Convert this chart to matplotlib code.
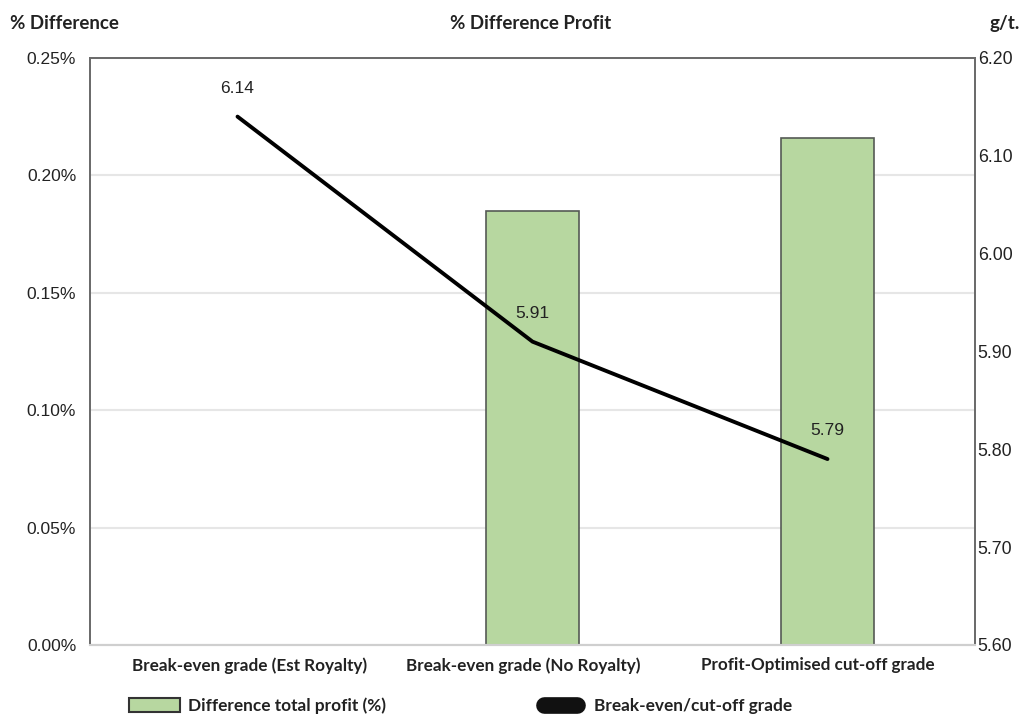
import matplotlib.pyplot as plt
import matplotlib.transforms as mtransforms
from matplotlib.patches import Patch
from matplotlib.lines import Line2D
from matplotlib.ticker import FuncFormatter

# data
categories = ['Break-even grade (Est Royalty)', 'Break-even grade (No Royalty)',
              'Profit-Optimised cut-off grade']
profit_diff = [0.0, 0.185, 0.216]      # % difference total profit
grade = [6.14, 5.91, 5.79]             # g/t
grade_labels = ['6.14', '5.91', '5.79']

bar_color = '#b7d7a0'
edge_color = '#555a55'
grid_color = '#e6e6e6'
tick_font = 'Liberation Sans'
label_font = 'Lato'

fig = plt.figure(figsize=(10.3, 7.15), dpi=100)
ax = fig.add_axes([0.0874, 0.098, 0.8592, 0.821])
ax2 = ax.twinx()

x = range(len(categories))
ax.bar(x, profit_diff, width=0.315, color=bar_color, edgecolor=edge_color,
       linewidth=1.2, zorder=2)
ax.set_xlim(-0.5, 2.5)
ax.set_ylim(0, 0.25)
ax.set_yticks([0, 0.05, 0.10, 0.15, 0.20, 0.25])
ax.yaxis.set_major_formatter(FuncFormatter(lambda v, p: f'{v:.2f}%'))
ax.grid(axis='y', color=grid_color, linewidth=1.5, zorder=0)
ax.set_axisbelow(True)
ax.set_xticks(list(x))
ax.set_xticklabels(categories, fontfamily=label_font, fontweight='bold',
                   fontsize=12.3, color='#222222')
ax.tick_params(axis='x', length=0, pad=9)
ax.tick_params(axis='y', length=0, pad=10, labelsize=12.5, labelcolor='#222222')
for lab in ax.get_yticklabels():
    lab.set_fontfamily(tick_font)

# the category labels in the source sit slightly off the bar centres
shifts = [12, -9, -10]
for lab, dx in zip(ax.get_xticklabels(), shifts):
    lab.set_transform(lab.get_transform() +
                      mtransforms.ScaledTranslation(dx / 100, 0, fig.dpi_scale_trans))

ax2.plot(list(x), grade, color='black', linewidth=2.8, zorder=3,
         solid_capstyle='round')
ax2.set_ylim(5.60, 6.20)
ax2.set_yticks([5.60, 5.70, 5.80, 5.90, 6.00, 6.10, 6.20])
ax2.yaxis.set_major_formatter(FuncFormatter(lambda v, p: f'{v:.2f}'))
ax2.tick_params(axis='y', length=0, pad=2, labelsize=12.8, labelcolor='#222222')
for lab in ax2.get_yticklabels():
    lab.set_fontfamily(tick_font)
for xi, g, t in zip(x, grade, grade_labels):
    ax2.annotate(t, (xi, g), xytext=(0, 15), textcoords='offset points',
                 ha='center', va='bottom', fontsize=12.5, fontfamily=tick_font,
                 color='#222222')

for a in (ax, ax2):
    for side in ('left', 'right', 'top'):
        a.spines[side].set_color('#6b6b6b')
        a.spines[side].set_linewidth(1.3)
    a.spines['bottom'].set_color('#cfcfcf')
    a.spines['bottom'].set_linewidth(1.5)

# header texts
fig.text(0.01, 0.967, '% Difference', fontfamily=label_font, fontweight='bold',
         fontsize=13.5, ha='left', va='center', color='#222222')
fig.text(0.515, 0.967, '% Difference Profit', fontfamily=label_font,
         fontweight='bold', fontsize=13.5, ha='center', va='center', color='#222222')
fig.text(0.99, 0.967, 'g/t.', fontfamily=label_font, fontweight='bold',
         fontsize=13.5, ha='right', va='center', color='#222222')

# legend, two entries placed under the chart
leg_font = {'family': label_font, 'weight': 'bold', 'size': 12.4}
leg1 = fig.legend(handles=[Patch(facecolor=bar_color, edgecolor='#333333',
                                 linewidth=1.5)],
                  labels=['Difference total profit (%)'], loc='center left',
                  bbox_to_anchor=(0.1252, 0.0126), frameon=False,
                  handlelength=2.95, handleheight=0.9, handletextpad=0.47,
                  borderaxespad=0, borderpad=0, prop=leg_font)
leg2 = fig.legend(handles=[Line2D([0], [0], color='#111111', linewidth=12,
                                  solid_capstyle='round')],
                  labels=['Break-even/cut-off grade'], loc='center left',
                  bbox_to_anchor=(0.5277, 0.0126), frameon=False,
                  handlelength=1.93, handletextpad=1.0,
                  borderaxespad=0, borderpad=0, prop=leg_font)
for leg in (leg1, leg2):
    for t in leg.get_texts():
        t.set_color('#222222')

fig.savefig('out.png', dpi=100)
